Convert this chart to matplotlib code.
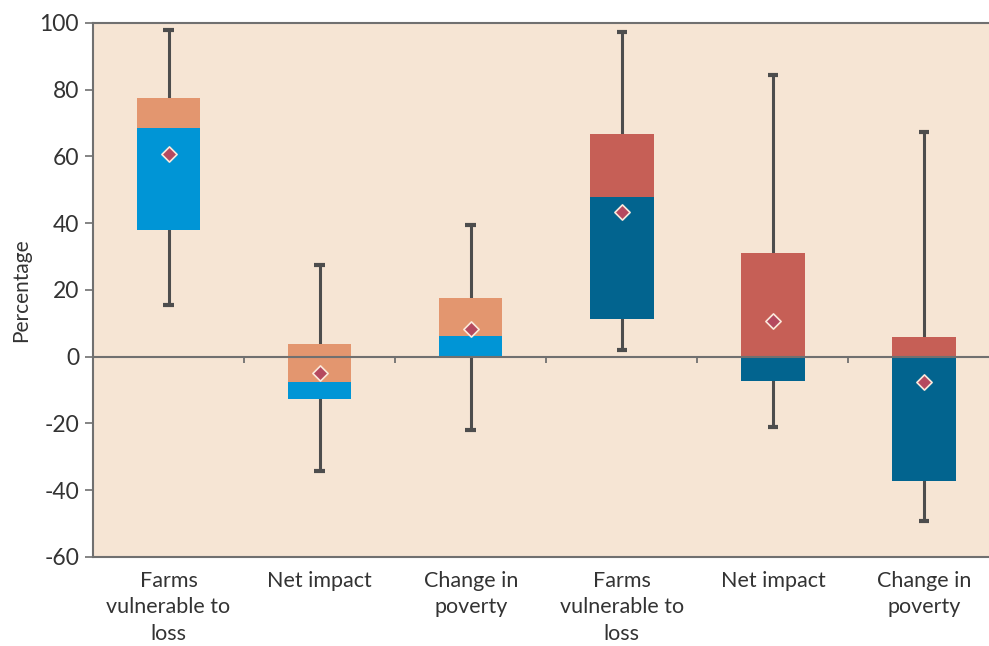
import matplotlib
matplotlib.use("Agg")
from matplotlib import pyplot as plt
import numpy as np

plt.rcParams['font.family'] = ['Lato', 'DejaVu Sans']

# categories (two groups of three)
labels = ["Farms\nvulnerable to\nloss", "Net impact", "Change in\npoverty",
          "Farms\nvulnerable to\nloss", "Net impact", "Change in\npoverty"]

# box statistics
whisker_low = [15.5, -34.3, -21.9, 2.0, -21.2, -49.2]
q1 = [37.9, -12.8, 0.0, 11.3, -7.4, -37.1]
median = [68.6, -7.6, 6.2, 48.0, 0.0, 0.0]
q3 = [77.4, 3.8, 17.6, 66.6, 31.2, 6.0]
whisker_high = [98.0, 27.5, 39.5, 97.3, 84.3, 67.2]
mean = [60.6, -4.8, 8.2, 43.4, 10.8, -7.7]

lower_colors = ["#0095d6"] * 3 + ["#02648f"] * 3
upper_colors = ["#e3966f"] * 3 + ["#c65f56"] * 3

x = np.arange(len(labels))
width = 0.42

fig = plt.figure(figsize=(9.89, 6.46), dpi=100)
ax = fig.add_axes([0.094, 0.1378, 0.906, 0.8266])
ax.set_facecolor("#f6e5d4")

# whiskers + caps
ax.vlines(x, whisker_low, whisker_high, color="#4d4d4d", lw=2.2, zorder=2)
ax.hlines(whisker_low, x - 0.035, x + 0.035, color="#4d4d4d", lw=3, zorder=2)
ax.hlines(whisker_high, x - 0.035, x + 0.035, color="#4d4d4d", lw=3, zorder=2)

# boxes: lower part q1->median, upper part median->q3
low_h = np.array(median) - np.array(q1)
up_h = np.array(q3) - np.array(median)
ax.bar(x, low_h, width, bottom=q1, color=lower_colors, zorder=3)
ax.bar(x, up_h, width, bottom=median, color=upper_colors, zorder=3)

# zero line with boundary ticks
ax.axhline(0, color="#707070", lw=1.5, zorder=4)
ax.vlines(x[:-1] + 0.5, -1.8, 0, color="#707070", lw=1.3, zorder=4)

# means
ax.scatter(x, mean, marker="D", s=60, color="#b5495f", edgecolor="#fbe9dc",
           linewidth=1.2, zorder=5)

ax.set_xlim(-0.5, 5.43)
ax.set_ylim(-60, 100)
ax.set_yticks(np.arange(-60, 101, 20))
ax.set_yticklabels([str(v) for v in range(-60, 101, 20)])
ax.set_xticks(x)
ax.set_xticklabels(labels, fontsize=15.5, color="#333333", linespacing=1.4)
ax.tick_params(axis="x", length=0, pad=10)
ax.tick_params(axis="y", length=6, width=1.2, color="#707070", labelsize=16.5,
               labelcolor="#333333", pad=4)
ax.set_ylabel("Percentage", fontsize=15, color="#333333", labelpad=6)

for side in ["top", "bottom", "left"]:
    ax.spines[side].set_color("#707070")
    ax.spines[side].set_linewidth(1.5)
ax.spines["right"].set_visible(False)

fig.savefig("out.png", dpi=100)
